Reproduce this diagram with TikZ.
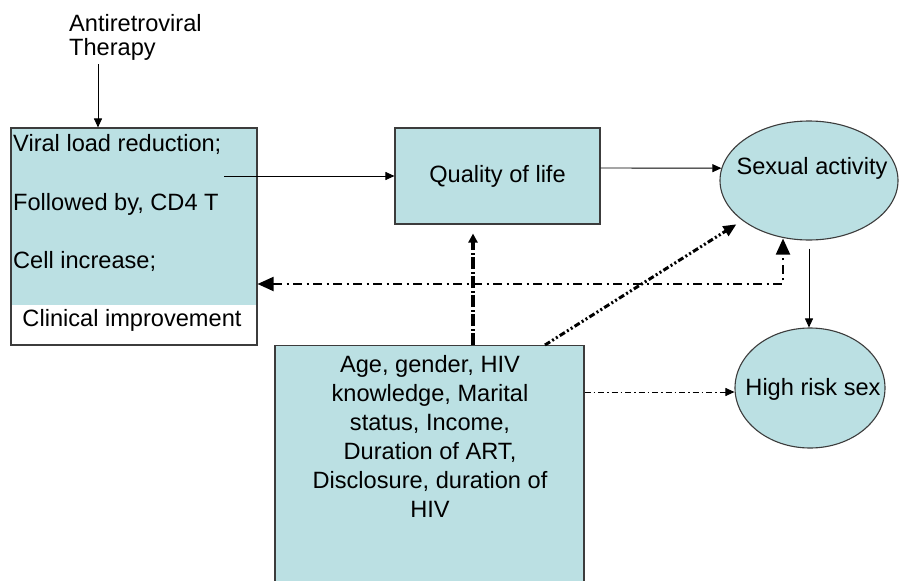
\documentclass[tikz,border=0pt]{standalone}
\usepackage{fontspec}
\setmainfont{Liberation Sans}
\usetikzlibrary{arrows.meta,shapes.geometric}
\definecolor{boxblue}{RGB}{187,224,227}
\definecolor{edgegray}{RGB}{60,60,60}
\begin{document}
\begin{tikzpicture}[x=1pt,y=-1pt,
  txt/.style={inner sep=0pt, font=\fontsize{23.6}{29}\selectfont},
  frame/.style={draw=edgegray, line width=1.1pt},
  solidarrow/.style={draw, line width=0.9pt, -{Triangle[length=9pt,width=8pt]}},
  dashdotthin/.style={draw, line width=0.9pt, dash pattern=on 6pt off 3pt on 1.5pt off 3pt, -{Triangle[length=9pt,width=8pt]}},
  dashdotmed/.style={draw, line width=2pt, dash pattern=on 9pt off 4.5pt on 2pt off 4.5pt,
     {Triangle[length=16pt,width=14pt]}-{Triangle[length=16pt,width=14pt]}},
  dashdotthick/.style={draw, line width=3.5pt, dash pattern=on 12pt off 2.5pt on 2pt off 2.5pt, -{Triangle[length=9pt,width=9pt]}},
  dashdotdot/.style={draw, line width=3pt, dash pattern=on 6pt off 2.5pt on 2pt off 2.5pt on 2pt off 2.5pt, -{Triangle[length=13pt,width=11pt]}}
]
\useasboundingbox (0,0) rectangle (900,581);
\clip (0,0) rectangle (900,581);
\fill[white] (0,0) rectangle (900,581);

% Antiretroviral therapy
\node[txt, anchor=base west] (art1) at (69,31) {Antiretroviral};
\node[txt, anchor=base west] (art2) at (69,55.5) {Therapy};
\coordinate (artend) at (98,64);

% left box
\fill[boxblue] (11,128) rectangle (257,305);
\node[frame, rectangle, minimum width=246pt, minimum height=217pt, inner sep=0pt] (vl) at (134,236.5) {};
\node[txt, anchor=base west] (vl1) at (13,151.5) {Viral load reduction;};
\node[txt, anchor=base west] (vl2) at (13,210.5) {Followed by, CD4 T};
\node[txt, anchor=base west] (vl3) at (13,268.5) {Cell increase;};
\node[txt, anchor=base] (vl4) at (132,326.5) {Clinical improvement};
\coordinate (vlstart) at (224,176);

% quality of life
\node[frame, fill=boxblue, rectangle, minimum width=205pt, minimum height=96pt, inner sep=0pt, txt] (qol) at (497.5,176) {Quality of life};

% sexual activity
\node[frame, fill=boxblue, ellipse, minimum width=178pt, minimum height=119pt, inner sep=0pt] (sa) at (809,180.5) {};
\node[txt] (satxt) at (812,168) {Sexual activity};

% high risk sex
\node[frame, fill=boxblue, ellipse, minimum width=150pt, minimum height=120pt, inner sep=0pt] (hr) at (810,388) {};
\node[txt] (hrtxt) at (813,389) {High risk sex};

% factors box
\node[frame, fill=boxblue, rectangle, minimum width=309pt, minimum height=260pt, inner sep=0pt, anchor=north] (fac) at (429.5,345) {};
\node[txt, align=center, anchor=north] (factxt) at (430,355) {Age, gender, HIV\\knowledge, Marital\\status, Income,\\Duration of ART,\\Disclosure, duration of\\HIV};

% connectors
\draw[solidarrow] (artend) -- (artend |- vl.north);
\draw[solidarrow] (vlstart) -- (vlstart -| qol.west);
\draw[solidarrow] ([yshift=8pt]qol.east) -- (sa.172);
\draw[solidarrow] ([yshift=-8pt]sa.south) -- (sa.south |- hr.north);
\draw[dashdotthin] ([yshift=-47pt]fac.north east) -- ([yshift=-47pt]fac.north east -| hr.west);

\coordinate (elbow) at (783,284);
\draw[dashdotmed] (elbow -| vl.east) -- (elbow) -- ([yshift=2pt]elbow |- sa.south);
\draw[dashdotthick, shorten >=9pt] ([xshift=43.5pt]fac.north) -- ([xshift=43.5pt]fac.north |- qol.south);
\draw[dashdotdot, shorten >=7pt] ([xshift=115.5pt]fac.north) -- (sa.211.7);
\end{tikzpicture}
\end{document}
